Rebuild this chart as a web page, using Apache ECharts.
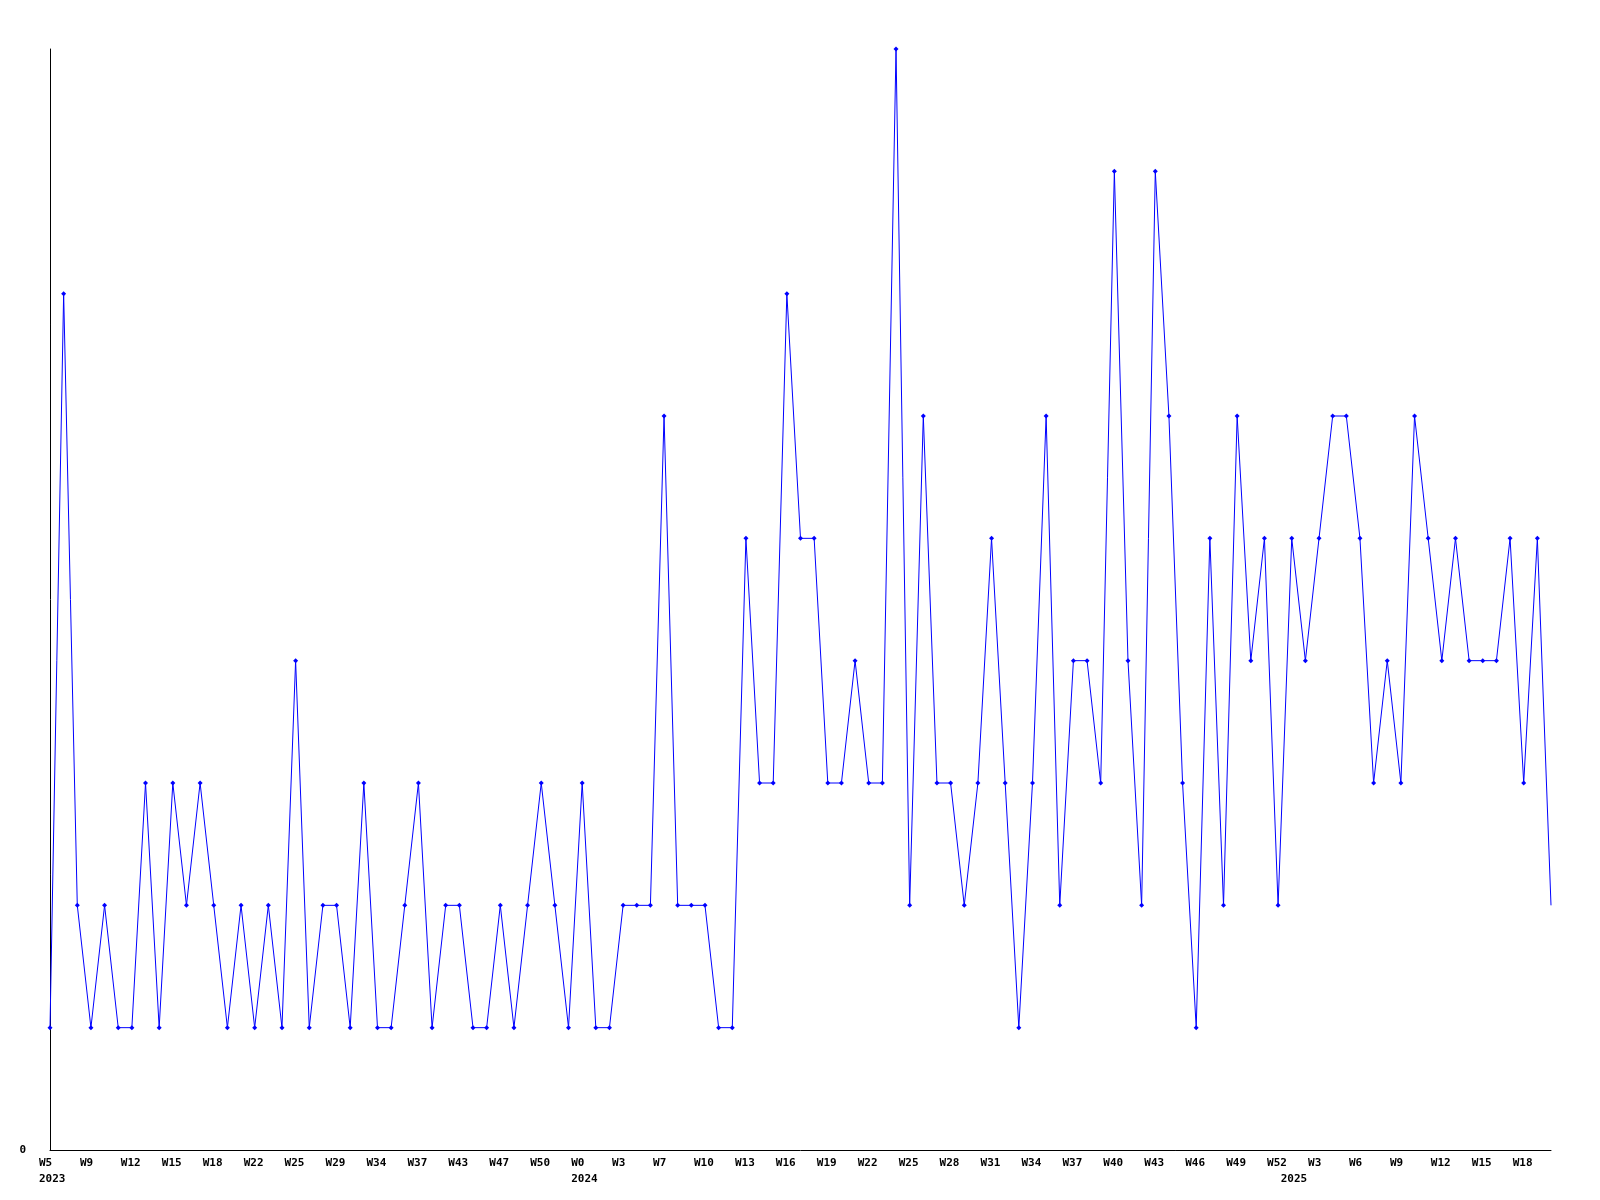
<!DOCTYPE html>
<html>
<head>
<meta charset="utf-8">
<script src="https://cdn.jsdelivr.net/npm/echarts@6/dist/echarts.min.js"></script>
<style>
html,body{margin:0;padding:0;background:#fff;}
#c{width:1600px;height:1200px;}
</style>
</head>
<body>
<div id="c"></div>
<script>
const weeks2023 = ['W5','W6','W7','W9','W10','W11','W12','W13','W14','W15','W16','W17','W18','W19','W21','W22','W23','W24','W25','W26','W27','W29','W30','W32','W34','W35','W36','W37','W39','W41','W43','W44','W46','W47','W48','W49','W50','W51','W52'];
const weeks2024 = ['W0','W1','W2','W3','W4','W5','W7','W8','W9','W10','W11','W12','W13','W14','W15','W16','W17','W18','W19','W20','W21','W22','W23','W24','W25','W26','W27','W28','W29','W30','W31','W32','W33','W34','W35','W36','W37','W38','W39','W40','W41','W42','W43','W44','W45','W46','W47','W48','W49','W50','W51','W52'];
const weeks2025 = ['W1','W2','W3','W4','W5','W6','W7','W8','W9','W10','W11','W12','W13','W14','W15','W16','W17','W18','W19','W20'];
const years = ['2023','2024','2025'];
const values = [
  1,7,2,1,2,1,1,3,1,3,
  2,3,2,1,2,1,2,1,4,1,
  2,2,1,3,1,1,2,3,1,2,
  2,1,1,2,1,2,3,2,1,3,
  1,1,2,2,2,6,2,2,2,1,
  1,5,3,3,7,5,5,3,3,4,
  3,3,9,2,6,3,3,2,3,5,
  3,1,3,6,2,4,4,3,8,4,
  2,8,6,3,1,5,2,6,4,5,
  2,5,4,5,6,6,5,3,4,3,
  6,5,4,5,4,4,4,5,3,5,
  2
];

const weekCats = weeks2023.concat(weeks2024, weeks2025);
const yearStarts = [0, weeks2023.length, weeks2023.length + weeks2024.length];
const yearCats = weekCats.map((w, i) => {
  const k = yearStarts.indexOf(i);
  return k >= 0 ? years[k] : '';
});
const font = 'DejaVu Sans Mono';

const chart = echarts.init(document.getElementById('c'), null, {renderer: 'canvas'});
chart.setOption({
  animation: false,
  backgroundColor: '#ffffff',
  grid: {left: 50, right: 49, top: 49, bottom: 50, containLabel: false},
  xAxis: [
    {
      type: 'category',
      data: weekCats,
      boundaryGap: false,
      axisLine: {show: true, lineStyle: {color: '#000', width: 1}},
      axisTick: {show: false},
      splitLine: {show: false},
      axisLabel: {
        interval: 2, margin: 8, color: '#000', align: 'left', padding: [0, 0, 0, -11],
        fontFamily: font, fontWeight: 'bold', fontSize: 11, hideOverlap: false
      }
    },
    {
      type: 'category',
      data: yearCats,
      boundaryGap: false,
      position: 'bottom',
      offset: 16,
      axisLine: {show: false},
      axisTick: {show: false},
      splitLine: {show: false},
      axisLabel: {
        interval: 0, margin: 8, color: '#000', align: 'left', padding: [0, 0, 0, -11],
        fontFamily: font, fontWeight: 'bold', fontSize: 11, hideOverlap: false
      }
    }
  ],
  yAxis: {
    type: 'value',
    min: 0, max: 9, interval: 9,
    axisLine: {show: true, lineStyle: {color: '#000', width: 1}},
    axisTick: {show: false},
    splitLine: {show: false},
    axisLabel: {
      margin: 24, color: '#000', showMaxLabel: false,
      fontFamily: font, fontWeight: 'bold', fontSize: 11,
      formatter: v => v === 0 ? '0' : ''
    }
  },
  series: [{
    type: 'line',
    xAxisIndex: 0,
    data: values.map((v, i) => i === values.length - 1 ? {value: v, symbol: 'none'} : v),
    symbol: 'diamond',
    symbolSize: 5,
    showAllSymbol: true,
    lineStyle: {color: '#0000ff', width: 1},
    itemStyle: {color: '#0000ff'},
    emphasis: {disabled: true}
  }]
});
</script>
</body>
</html>
